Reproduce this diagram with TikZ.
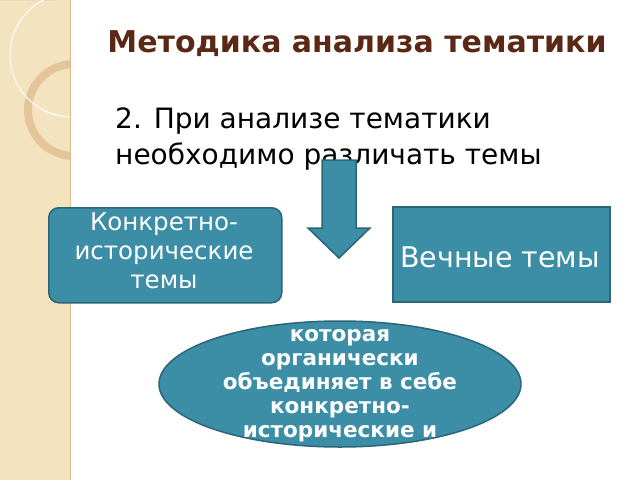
\documentclass[tikz,border=0pt]{standalone}
\usepackage{fontspec}
\setmainfont{DejaVu Sans}
\usetikzlibrary{shapes.geometric}
\definecolor{teal1}{HTML}{3B8EA5}
\definecolor{tealB}{HTML}{2B6579}
\definecolor{beige}{HTML}{F3E3BF}
\definecolor{brownT}{HTML}{5A2814}
\tikzset{box/.style={fill=teal1,draw=tealB,line width=1.5pt,text=white,align=center}}
\begin{document}
\begin{tikzpicture}[x=1pt,y=-1pt]
\useasboundingbox (0,0) rectangle (640,480);
\begin{scope}
\clip (0,0) rectangle (70,480);
\fill[beige] (0,0) rectangle (70,480);
\fill[black!20!beige!80!gray] (57,0) arc (0:-90:57 and 60) -- (0,0) -- cycle;
\draw[line width=8pt,color=brown!30!beige] (74,110) circle (46);
\draw[white,line width=1pt] (72,55) circle (62);
\end{scope}
\draw[brown!40!beige,line width=1pt] (70,0) -- (70,480);
\node[font=\bfseries\fontsize{30}{34}\selectfont,text=brownT] (title) at (357,44) {Методика анализа тематики};
\node[anchor=north west,align=left,font=\fontsize{28}{36}\selectfont,inner sep=0] (intro) at (115,108) {2. При анализе тематики\\необходимо различать темы};
\fill[teal1,draw=tealB,line width=1.5pt] (322,160) -- (356,160) -- (356,228) -- (370,228) -- (339,258) -- (308,228) -- (322,228) -- cycle;
\node[box,rounded corners=10pt,minimum width=233pt,minimum height=95pt,anchor=north west,inner sep=2pt] (left) at (48,207) {};
\node[text=white,align=center,font=\fontsize{24.5}{29}\selectfont,anchor=north,inner sep=0] (lt) at (164,212) {Конкретно-\\исторические\\темы};
\node[box,minimum width=217pt,minimum height=95pt,anchor=north west] (right) at (392,206) {};
\node[text=white,font=\fontsize{28.5}{32}\selectfont] (rt) at (500,257) {Вечные темы};
\node[ellipse,fill=teal1,draw=tealB,line width=1.5pt,minimum width=362pt,minimum height=126pt] (ell) at (340,384) {};
\node[text=white,align=center,font=\bfseries\fontsize{21.5}{24}\selectfont,anchor=north,inner sep=0] (et) at (340,329) {которая\\органически\\объединяет в себе\\конкретно-\\исторические и};
\end{tikzpicture}
\end{document}
